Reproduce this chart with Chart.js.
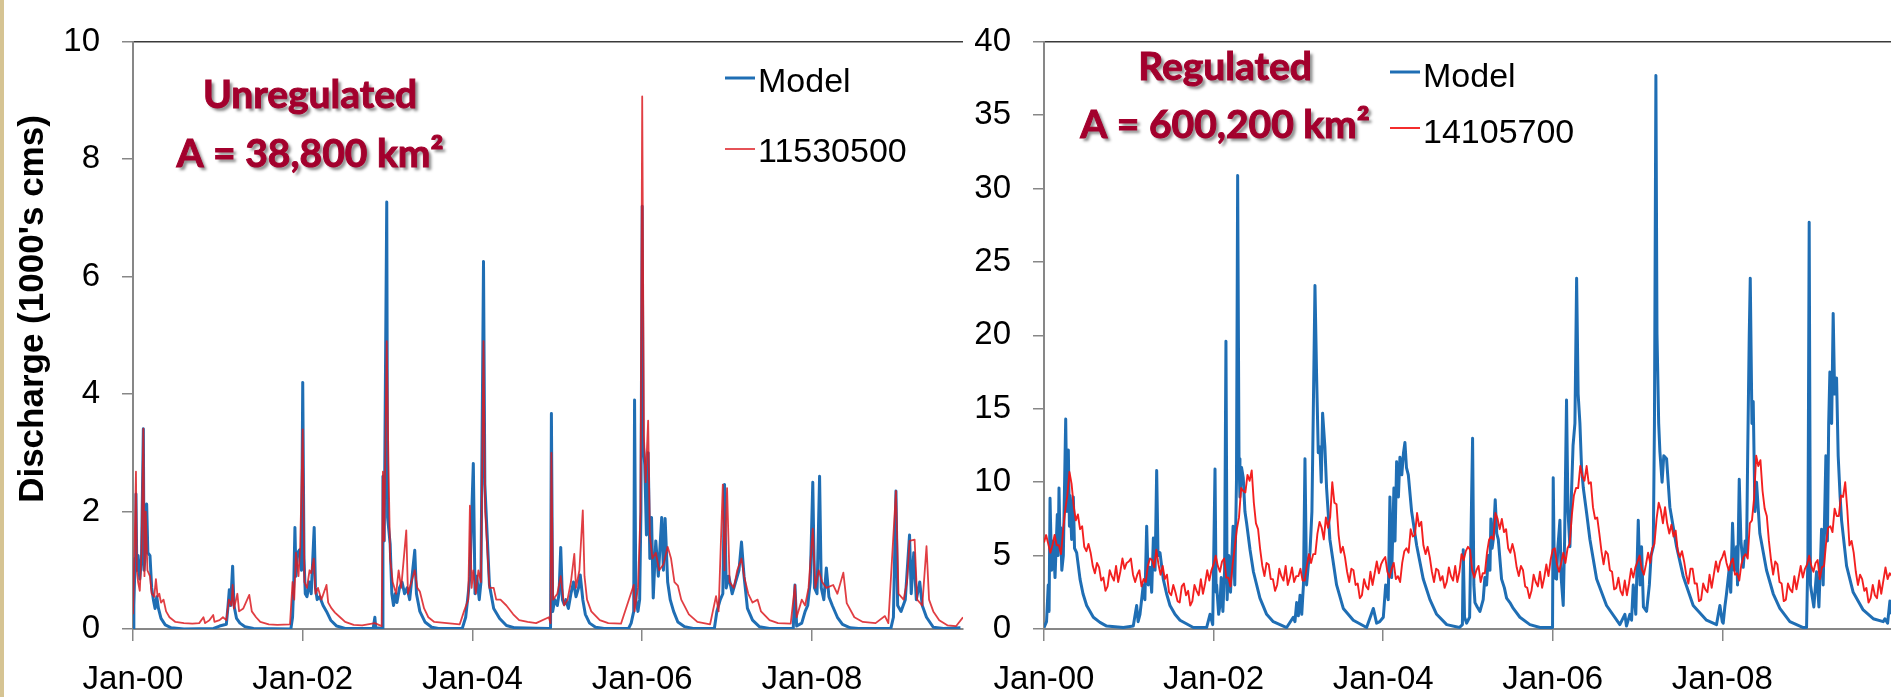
<!DOCTYPE html>
<html>
<head>
<meta charset="utf-8">
<script src="https://cdn.jsdelivr.net/npm/chart.js@4.4.1/dist/chart.umd.min.js"></script>
<style>
  html, body { margin: 0; padding: 0; background: #fff; }
  body { width: 1891px; height: 697px; position: relative; overflow: hidden; }
  .edge { position: absolute; left: 0; top: 0; width: 4px; height: 697px; background: #d6c493; z-index: 2; }
  canvas { position: absolute; top: 0; }
  #unreg { left: 0; }
  #reg { left: 968px; }
</style>
</head>
<body>
<div class="edge"></div>
<canvas id="unreg" width="968" height="697"></canvas>
<canvas id="reg" width="923" height="697"></canvas>
<script>
// x values are years since 1 Jan 2000, discharge in 1000's cms
const xTickLabels = ['Jan-00', 'Jan-02', 'Jan-04', 'Jan-06', 'Jan-08'];

// Unregulated basin (38,800 km2), gauge 11530500
const unregModel = [
  [0,0],[0.01,0.4],[0.025,1.2],[0.035,2.3],[0.045,1.0],[0.06,1.25],[0.08,0.85],[0.1,1.2],[0.122,3.41],[0.13,1.0],
  [0.145,1.3],[0.161,2.13],[0.175,1.3],[0.2,1.25],[0.22,0.7],[0.24,0.5],[0.26,0.35],[0.28,0.55],[0.3,0.35],[0.33,0.18],
  [0.38,0.07],[0.45,0.02],[0.6,0],[0.95,0.01],[1.02,0.05],[1.1,0.08],[1.12,0.4],[1.135,0.67],[1.15,0.4],[1.174,1.07],
  [1.19,0.4],[1.22,0.18],[1.26,0.1],[1.32,0.04],[1.42,0.01],[1.86,0],[1.88,0.2],[1.895,0.8],[1.908,1.73],[1.92,0.9],
  [1.94,1.3],[1.965,1.35],[1.985,1.0],[2.0,4.2],[2.015,1.2],[2.03,0.6],[2.05,0.55],[2.08,0.8],[2.1,0.6],[2.135,1.73],
  [2.15,0.7],[2.17,0.5],[2.2,0.55],[2.24,0.4],[2.28,0.3],[2.33,0.15],[2.4,0.05],[2.5,0.01],[2.83,0.01],[2.85,0.2],
  [2.86,0.02],[2.94,0.01],[2.945,2.6],[2.96,1.5],[2.99,7.27],[3.0,1.9],[3.03,1.45],[3.05,0.6],[3.07,0.4],[3.09,0.6],
  [3.11,0.45],[3.14,0.7],[3.17,0.8],[3.2,0.6],[3.23,0.7],[3.26,0.5],[3.32,1.34],[3.34,0.6],[3.38,0.3],[3.44,0.12],
  [3.52,0.03],[3.6,0.01],[3.88,0.01],[3.92,0.2],[3.95,0.6],[3.97,0.9],[3.99,1.9],[4.01,2.82],[4.03,0.6],[4.05,0.9],
  [4.08,0.5],[4.1,0.8],[4.13,6.26],[4.146,2.46],[4.2,0.75],[4.25,0.35],[4.32,0.18],[4.4,0.06],[4.5,0.02],[4.9,0.01],
  [4.92,0.02],[4.93,3.67],[4.945,0.3],[4.97,0.5],[5.0,0.4],[5.02,0.6],[5.04,1.39],[5.06,0.5],[5.08,0.42],[5.1,0.5],
  [5.13,0.35],[5.16,0.6],[5.19,0.8],[5.22,0.55],[5.25,0.7],[5.27,0.92],[5.3,0.5],[5.33,0.25],[5.38,0.1],[5.45,0.03],
  [5.55,0.01],[5.84,0.01],[5.87,0.1],[5.9,0.3],[5.91,3.9],[5.925,0.5],[5.95,0.3],[5.97,0.5],[5.985,2.0],[6.0,7.2],
  [6.01,3.2],[6.03,2.8],[6.05,1.6],[6.07,3.0],[6.09,1.2],[6.11,1.9],[6.13,0.53],[6.16,1.5],[6.19,0.9],[6.23,1.9],
  [6.25,1.0],[6.27,1.88],[6.3,0.8],[6.33,0.5],[6.37,0.3],[6.42,0.12],[6.5,0.04],[6.6,0.01],[6.85,0.01],[6.88,0.3],
  [6.92,0.5],[6.95,0.6],[6.97,2.46],[6.99,0.7],[7.02,0.9],[7.06,0.6],[7.1,0.8],[7.14,1.0],[7.17,1.48],[7.2,0.9],
  [7.24,0.35],[7.3,0.15],[7.38,0.04],[7.5,0.01],[7.78,0.01],[7.8,0.75],[7.82,0.05],[7.88,0.1],[7.92,0.3],[7.95,0.4],
  [7.98,0.8],[8.01,2.5],[8.03,0.7],[8.06,0.6],[8.09,2.6],[8.11,0.7],[8.14,0.5],[8.17,1.04],[8.2,0.55],[8.24,0.4],
  [8.3,0.2],[8.36,0.08],[8.45,0.02],[8.55,0.01],[8.93,0.01],[8.96,0.2],[8.99,2.35],[9.01,0.4],[9.05,0.3],[9.1,0.5],
  [9.15,1.6],[9.17,0.6],[9.2,1.3],[9.23,0.5],[9.27,0.8],[9.3,0.4],[9.35,0.2],[9.43,0.03],[9.55,0.01],[9.75,0.02]
];
const unregGauge = [
  [0,0.25],[0.02,1.5],[0.035,2.68],[0.045,1.0],[0.06,0.8],[0.08,0.65],[0.1,1.3],[0.122,3.41],[0.135,0.9],[0.15,2.0],
  [0.17,1.0],[0.2,0.9],[0.22,0.6],[0.25,0.55],[0.27,0.85],[0.29,0.55],[0.31,0.6],[0.33,0.45],[0.36,0.5],[0.39,0.3],
  [0.43,0.2],[0.5,0.12],[0.6,0.1],[0.7,0.09],[0.78,0.1],[0.83,0.2],[0.85,0.1],[0.9,0.15],[0.945,0.24],[0.96,0.12],
  [1.02,0.15],[1.06,0.2],[1.1,0.15],[1.13,0.5],[1.16,0.4],[1.174,0.75],[1.19,0.35],[1.23,0.6],[1.25,0.3],[1.3,0.35],
  [1.37,0.58],[1.4,0.3],[1.45,0.2],[1.5,0.12],[1.6,0.08],[1.7,0.07],[1.85,0.08],[1.88,0.8],[1.9,0.5],[1.92,1.3],
  [1.95,0.9],[1.97,1.4],[2.0,3.4],[2.02,0.8],[2.05,0.7],[2.08,1.0],[2.1,0.95],[2.13,1.2],[2.15,0.6],[2.18,0.7],
  [2.22,0.5],[2.28,0.75],[2.3,0.45],[2.34,0.35],[2.38,0.28],[2.44,0.2],[2.5,0.12],[2.6,0.07],[2.7,0.06],[2.85,0.1],
  [2.93,0.05],[2.945,2.68],[2.96,1.5],[2.99,4.9],[3.01,2.83],[3.03,1.2],[3.06,0.8],[3.1,0.6],[3.13,1.0],[3.16,0.7],
  [3.22,1.68],[3.24,0.6],[3.28,0.8],[3.32,1.0],[3.35,0.7],[3.38,0.64],[3.43,0.35],[3.48,0.2],[3.55,0.12],[3.7,0.1],
  [3.85,0.08],[3.9,0.3],[3.95,0.5],[3.97,2.1],[3.99,0.7],[4.01,1.0],[4.04,0.6],[4.07,1.0],[4.1,0.8],[4.13,4.9],
  [4.15,2.0],[4.2,0.7],[4.25,0.7],[4.28,0.5],[4.33,0.5],[4.4,0.4],[4.48,0.25],[4.55,0.15],[4.65,0.12],[4.75,0.1],
  [4.9,0.2],[4.92,0.1],[4.93,3.0],[4.95,0.5],[5.0,0.6],[5.04,0.9],[5.08,0.4],[5.12,0.5],[5.16,0.8],[5.2,1.28],
  [5.22,0.7],[5.26,1.0],[5.3,2.02],[5.32,0.9],[5.35,0.5],[5.4,0.3],[5.5,0.15],[5.6,0.1],[5.75,0.09],[5.9,0.75],
  [5.91,0.3],[5.95,0.7],[5.98,2.0],[6.0,9.07],[6.02,3.3],[6.04,2.5],[6.07,3.55],[6.09,1.6],[6.12,1.2],[6.16,1.3],
  [6.2,1.0],[6.25,1.1],[6.3,1.4],[6.34,1.2],[6.38,0.8],[6.42,0.74],[6.46,0.5],[6.55,0.25],[6.65,0.12],[6.8,0.08],
  [6.87,0.56],[6.9,0.3],[6.95,2.46],[6.97,1.0],[7.0,2.4],[7.03,0.8],[7.08,0.7],[7.12,1.0],[7.17,1.2],[7.2,0.9],
  [7.25,0.6],[7.3,0.45],[7.36,0.5],[7.4,0.3],[7.5,0.15],[7.6,0.1],[7.75,0.09],[7.8,0.75],[7.82,0.2],[7.88,0.5],
  [7.92,0.4],[7.96,0.7],[8.01,1.71],[8.04,0.7],[8.08,1.0],[8.12,0.8],[8.17,0.7],[8.25,0.75],[8.3,0.6],[8.37,0.96],
  [8.41,0.44],[8.5,0.2],[8.6,0.12],[8.75,0.1],[8.86,0.22],[8.9,0.1],[8.99,2.35],[9.02,0.6],[9.08,0.5],[9.12,0.8],
  [9.15,1.5],[9.21,1.52],[9.24,0.5],[9.3,0.4],[9.35,1.41],[9.38,0.5],[9.43,0.3],[9.5,0.15],[9.6,0.06],[9.7,0.05],
  [9.78,0.2]
];

// Regulated basin (600,200 km2), gauge 14105700
const regModel = [
  [0,0.1],[0.03,0.5],[0.05,3.0],[0.06,1.2],[0.071,8.9],[0.09,4.0],[0.11,6.0],[0.13,3.5],[0.157,7.8],[0.167,5.0],
  [0.177,9.6],[0.19,5.5],[0.197,6.9],[0.21,4.0],[0.228,5.0],[0.24,9.0],[0.256,14.3],[0.27,8.0],[0.287,12.2],[0.3,7.0],
  [0.307,9.1],[0.326,6.1],[0.346,9.0],[0.36,5.5],[0.385,5.2],[0.425,3.4],[0.46,2.4],[0.503,1.6],[0.582,0.8],[0.66,0.45],
  [0.739,0.2],[0.936,0.1],[1.053,0.2],[1.093,1.6],[1.11,0.5],[1.132,1.0],[1.171,3.0],[1.19,2.0],[1.211,7.0],[1.23,3.0],
  [1.25,4.2],[1.27,2.5],[1.29,6.2],[1.31,4.0],[1.329,10.8],[1.345,5.0],[1.368,5.2],[1.407,3.4],[1.446,2.4],[1.486,1.6],
  [1.545,1.0],[1.604,0.6],[1.761,0.1],[1.918,0.1],[1.958,1.0],[1.99,0.3],[2.017,10.9],[2.03,2.5],[2.036,3.0],[2.06,1.0],
  [2.075,1.6],[2.09,3.5],[2.11,1.2],[2.13,4.0],[2.146,19.6],[2.16,2.0],[2.18,5.0],[2.2,2.5],[2.23,7.0],[2.25,3.0],
  [2.27,10.0],[2.284,30.9],[2.3,11.6],[2.311,9.0],[2.33,11.0],[2.35,10.3],[2.37,8.0],[2.39,7.2],[2.43,5.4],[2.47,3.9],
  [2.547,2.1],[2.626,1.0],[2.704,0.5],[2.862,0.1],[2.94,0.8],[2.96,0.5],[2.98,1.8],[3.0,0.9],[3.02,2.3],[3.04,1.0],
  [3.06,3.0],[3.078,11.6],[3.097,3.0],[3.12,4.5],[3.137,5.2],[3.16,8.0],[3.176,14.7],[3.196,23.4],[3.215,17.3],[3.235,12.0],
  [3.255,12.4],[3.27,10.0],[3.286,14.7],[3.313,12.4],[3.333,9.6],[3.372,6.1],[3.451,3.0],[3.53,1.4],[3.648,0.6],[3.805,0.1],
  [3.884,1.4],[3.923,0.4],[3.96,0.5],[4.002,0.8],[4.03,3.0],[4.06,2.0],[4.08,9.0],[4.1,3.5],[4.127,9.6],[4.14,6.0],
  [4.159,11.4],[4.18,9.0],[4.198,11.7],[4.22,10.5],[4.24,12.0],[4.257,12.7],[4.275,11.0],[4.297,10.5],[4.336,8.0],[4.395,5.7],
  [4.473,3.4],[4.552,2.0],[4.631,1.0],[4.75,0.3],[4.9,0.1],[4.935,0.3],[4.945,5.4],[4.96,0.8],[4.985,0.4],[5.02,0.8],
  [5.055,13.0],[5.07,3.0],[5.083,1.8],[5.11,1.5],[5.142,1.2],[5.18,2.0],[5.2,3.5],[5.22,3.0],[5.24,5.0],[5.26,4.0],
  [5.271,7.5],[5.285,5.5],[5.299,6.1],[5.322,8.8],[5.34,6.5],[5.358,6.1],[5.397,3.4],[5.43,2.8],[5.456,2.1],[5.495,1.8],
  [5.535,1.4],[5.613,0.8],[5.731,0.3],[5.85,0.1],[5.998,0.1],[6.006,10.3],[6.02,3.5],[6.045,3.4],[6.06,5.5],[6.085,7.4],
  [6.1,3.5],[6.124,1.6],[6.14,6.0],[6.163,15.6],[6.18,8.0],[6.203,5.6],[6.22,9.0],[6.24,12.5],[6.262,14.0],[6.282,23.9],
  [6.3,16.0],[6.321,14.0],[6.34,11.0],[6.361,9.6],[6.4,7.9],[6.439,6.1],[6.518,3.4],[6.635,1.6],[6.792,0.3],[6.851,1.0],
  [6.87,0.2],[6.91,1.0],[6.93,0.6],[6.95,3.0],[6.98,1.0],[7.009,7.4],[7.03,3.0],[7.048,5.6],[7.07,1.5],[7.107,1.2],
  [7.14,3.0],[7.16,5.0],[7.186,5.6],[7.2,14.0],[7.217,37.7],[7.23,20.1],[7.25,14.0],[7.264,12.1],[7.29,10.0],[7.31,11.8],
  [7.343,11.6],[7.382,8.3],[7.42,7.0],[7.461,5.6],[7.539,3.6],[7.657,1.6],[7.814,0.6],[7.932,0.3],[7.972,1.6],[8.0,0.5],
  [8.011,0.4],[8.03,1.5],[8.05,2.4],[8.08,4.0],[8.1,2.5],[8.121,7.2],[8.14,4.0],[8.168,5.6],[8.18,3.0],[8.2,10.2],
  [8.22,6.0],[8.247,4.2],[8.27,6.0],[8.286,5.1],[8.3,12.0],[8.318,20.0],[8.33,23.9],[8.35,14.0],[8.365,15.5],[8.385,8.0],
  [8.404,10.0],[8.443,6.5],[8.522,4.0],[8.601,2.4],[8.679,1.4],[8.797,0.5],[8.955,0.1],[8.994,0.1],[9.01,5.0],[9.025,27.7],
  [9.04,3.0],[9.053,2.5],[9.08,1.5],[9.112,3.9],[9.14,1.5],[9.171,6.8],[9.19,3.0],[9.222,11.8],[9.24,6.0],[9.255,14.0],
  [9.269,17.5],[9.29,14.0],[9.308,21.5],[9.325,16.0],[9.348,17.1],[9.367,11.8],[9.39,9.0],[9.407,7.4],[9.466,4.3],[9.544,2.5],
  [9.662,1.3],[9.78,0.7],[9.898,0.5],[9.918,0.7],[9.95,0.4],[9.977,1.9],[9.99,1.0]
];
// gauge record read every 0.025 yr, one row per half year
const regGaugeStep = 0.025;
const regGauge = [
  5.9,6.4,5.8,5.2,5.7,6.4,5.7,5.7,5.1,6.7,8.1,9.1,10.7,9.9,8.4,7.4,7.8,6.8,7.0,5.6,
  5.3,5.8,5.2,4.3,3.8,4.5,4.2,3.3,3.5,2.6,2.9,4.0,3.6,3.3,4.3,3.2,3.9,4.8,4.1,4.5,
  4.6,4.8,3.7,3.2,3.7,4.0,2.9,3.4,3.2,4.3,4.8,4.7,4.2,5.4,4.4,3.7,4.3,3.4,3.7,2.5,
  2.3,3.0,2.5,1.9,1.8,2.9,3.1,2.3,2.6,1.6,1.9,3.0,2.6,2.3,3.4,2.4,3.1,4.0,3.3,4.0,
  4.4,5.0,4.3,3.9,4.6,4.8,3.5,3.5,2.9,4.4,5.6,6.8,7.6,9.6,9.4,9.3,10.5,10.1,10.8,8.6,
  7.2,6.8,5.4,4.3,3.6,4.5,4.4,3.4,3.4,2.6,3.0,4.1,3.6,3.3,4.3,3.0,3.5,4.2,3.2,3.6,
  3.6,4.1,3.3,3.3,4.3,5.1,4.5,5.1,5.1,6.5,7.3,6.9,6.1,7.6,6.9,7.6,10.0,8.6,8.5,6.4,
  5.2,5.6,4.9,3.9,3.2,4.1,4.0,3.0,3.1,2.1,2.3,3.4,2.9,2.7,3.9,3.0,3.8,4.6,3.8,4.4,
  4.7,4.9,3.9,3.5,4.1,4.5,3.4,3.6,3.2,4.5,5.3,5.5,5.2,6.8,6.3,6.4,7.9,7.0,7.3,5.7,
  5.1,5.6,4.9,3.9,3.2,4.1,4.0,3.3,3.6,2.8,3.2,4.2,3.6,3.3,4.3,3.2,3.9,5.1,4.7,5.3,
  5.6,5.4,4.0,3.5,4.0,4.3,3.2,3.8,3.8,5.2,6.1,6.3,6.1,7.9,7.5,6.8,7.5,6.6,6.8,5.5,
  5.2,5.8,5.2,4.2,3.6,4.3,4.0,2.9,2.8,2.1,2.6,3.7,3.2,2.9,3.9,2.8,3.5,4.4,3.6,4.7,
  5.4,5.5,4.4,3.9,4.5,5.2,4.5,5.5,5.8,7.7,9.1,9.6,9.6,11.1,10.4,10.1,11.1,9.9,10.0,8.3,
  7.5,7.6,6.5,5.3,4.4,5.3,5.1,4.0,3.9,2.7,2.8,3.5,2.6,2.3,3.3,2.3,3.1,4.1,3.5,4.2,
  4.6,5.0,4.1,3.7,4.4,5.2,4.5,5.5,5.8,7.5,8.6,8.1,7.2,8.3,7.2,6.5,7.1,6.3,6.7,5.3,
  4.9,5.3,4.6,3.7,3.1,4.1,4.1,3.1,3.1,1.9,2.0,3.1,2.7,2.5,3.7,2.8,3.7,4.6,3.9,4.6,
  4.9,5.3,4.5,4.0,4.5,4.8,3.7,3.8,3.3,4.4,4.9,5.1,4.8,7.2,7.4,8.9,11.8,11.1,11.5,9.4,
  8.2,7.7,6.0,4.7,3.7,4.6,4.4,3.2,3.1,1.9,2.0,3.1,2.7,2.5,3.6,2.7,3.5,4.3,3.5,4.1,
  4.4,5.0,4.3,3.9,4.5,4.7,3.4,4.2,4.3,5.9,6.9,7.0,6.6,8.2,7.7,7.7,9.1,9.0,10.0,8.1,
  5.7,6.0,5.2,3.9,3.0,3.7,3.4,2.6,2.8,1.8,2.1,3.0,2.3,2.1,3.3,2.4,3.3,4.2,3.4,3.8,
  3.6
];

const BLUE = '#1f6eb4';
const AXIS_GREY = '#878787';
const TICK_FONT = { family: 'Liberation Sans, Arial, sans-serif', size: 33 };

// titles, area labels and the line legend, drawn over each chart
const notesPlugin = {
  id: 'notes',
  afterDraw(chart, args, opts) {
    const ctx = chart.ctx;
    ctx.save();
    if (opts.yTitle) {
      ctx.translate(opts.yTitle.x, opts.yTitle.y);
      ctx.rotate(-Math.PI / 2);
      ctx.font = 'bold 35px Liberation Sans, Arial, sans-serif';
      ctx.fillStyle = '#000';
      ctx.textAlign = 'center';
      ctx.fillText(opts.yTitle.text, 0, 0);
      ctx.setTransform(1, 0, 0, 1, 0, 0);
    }
    // dark red area labels with a soft drop shadow, stroked a little for weight
    ctx.font = 'bold 39px Lato, sans-serif';
    ctx.fillStyle = '#a3002d';
    ctx.strokeStyle = '#a3002d';
    ctx.lineWidth = 1;
    ctx.textAlign = 'center';
    ctx.shadowColor = 'rgba(0,0,0,0.45)';
    ctx.shadowBlur = 3;
    ctx.shadowOffsetX = 3;
    ctx.shadowOffsetY = 3;
    opts.heading.forEach(h => ctx.fillText(h.text, opts.headingX, h.y));
    ctx.shadowColor = 'transparent';
    opts.heading.forEach(h => ctx.strokeText(h.text, opts.headingX, h.y));

    ctx.font = '34px Liberation Sans, Arial, sans-serif';
    ctx.fillStyle = '#000';
    ctx.textAlign = 'left';
    chart.data.datasets.forEach((ds, i) => {
      const item = opts.legend[i];
      ctx.beginPath();
      ctx.strokeStyle = ds.borderColor;
      ctx.lineWidth = ds.borderWidth;
      ctx.moveTo(opts.legendX, item.lineY);
      ctx.lineTo(opts.legendX + 30, item.lineY);
      ctx.stroke();
      ctx.fillText(ds.label, opts.legendX + 33, item.y);
    });
    ctx.restore();
  }
};

function buildChart(id, cfg) {
  const yMax = cfg.yMax;
  return new Chart(document.getElementById(id), {
    type: 'line',
    data: {
      datasets: [
        { label: 'Model', data: cfg.model, borderColor: BLUE, borderWidth: cfg.modelWidth, order: 1 },
        { label: cfg.gaugeId, data: cfg.gauge, borderColor: cfg.gaugeColor, borderWidth: cfg.gaugeWidth, order: 0 }
      ]
    },
    options: {
      responsive: false,
      animation: false,
      layout: { padding: { top: 24, right: cfg.padRight, bottom: 0, left: 0 } },
      elements: { point: { radius: 0 }, line: { tension: 0, borderJoinStyle: 'round' } },
      plugins: { legend: { display: false }, tooltip: { enabled: false }, notes: cfg.notes },
      scales: {
        x: {
          type: 'linear', min: 0, max: cfg.xMax,
          afterFit: s => { s.height = 68; },
          border: { color: AXIS_GREY, width: 2 },
          grid: { drawOnChartArea: false, tickLength: 12, color: AXIS_GREY, lineWidth: 1.5 },
          ticks: {
            stepSize: 2, includeBounds: false, autoSkip: false, maxRotation: 0,
            padding: 19, font: TICK_FONT, color: '#000',
            callback: v => xTickLabels[v / 2]
          }
        },
        y: {
          min: 0, max: yMax,
          afterFit: s => { s.width = cfg.yWidth; },
          border: { color: AXIS_GREY, width: 2 },
          grid: {
            color: c => (c.tick && c.tick.value === yMax ? '#3a3a3a' : 'rgba(0,0,0,0)'),
            tickColor: AXIS_GREY, tickLength: 11, lineWidth: 1.5
          },
          ticks: { stepSize: cfg.yStep, padding: 22, font: TICK_FONT, color: '#000' }
        }
      }
    },
    plugins: [notesPlugin]
  });
}

const toPoints = rows => rows.map(([x, y]) => ({ x, y }));

buildChart('unreg', {
  model: toPoints(unregModel),
  gauge: toPoints(unregGauge),
  gaugeId: '11530500',
  gaugeColor: 'rgba(220,28,34,0.85)',
  modelWidth: 3, gaugeWidth: 1.8,
  xMax: 9.78, yMax: 10, yStep: 2, yWidth: 133, padRight: 5,
  notes: {
    yTitle: { text: "Discharge (1000's cms)", x: 43, y: 309 },
    headingX: 310,
    heading: [{ text: 'Unregulated', y: 108 }, { text: 'A = 38,800 km²', y: 167 }],
    legendX: 725,
    legend: [{ lineY: 78, y: 92 }, { lineY: 149, y: 162 }]
  }
});

buildChart('reg', {
  model: toPoints(regModel),
  gauge: regGauge.map((q, i) => ({ x: i * regGaugeStep, y: q })),
  gaugeId: '14105700',
  gaugeColor: 'rgba(242,20,20,0.95)',
  modelWidth: 3, gaugeWidth: 1.9,
  xMax: 9.99, yMax: 40, yStep: 5, yWidth: 76, padRight: 0,
  notes: {
    headingX: 257,
    heading: [{ text: 'Regulated', y: 80 }, { text: 'A = 600,200 km²', y: 138 }],
    legendX: 422,
    legend: [{ lineY: 72, y: 87 }, { lineY: 128, y: 143 }]
  }
});
</script>
</body>
</html>
